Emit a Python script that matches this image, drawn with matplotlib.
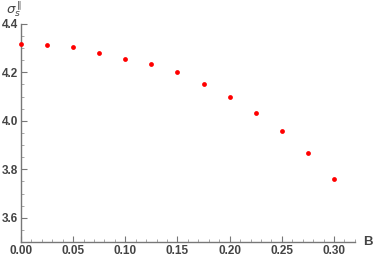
import matplotlib
matplotlib.use("Agg")
import matplotlib.pyplot as plt
from matplotlib.ticker import MultipleLocator

# data
b_vals = [0.0, 0.025, 0.05, 0.075, 0.1, 0.125, 0.15, 0.175, 0.2, 0.225, 0.25, 0.275, 0.3]
sigma = [4.318, 4.314, 4.306, 4.281, 4.256, 4.236, 4.203, 4.150, 4.100, 4.032, 3.960, 3.869, 3.760]
x_ticks = [0.0, 0.05, 0.10, 0.15, 0.20, 0.25, 0.30]
y_ticks = [3.6, 3.8, 4.0, 4.2, 4.4]

plt.rcParams["font.family"] = ["Liberation Sans", "DejaVu Sans"]
grey = "#444444"
fig = plt.figure(figsize=(3.74, 2.63), dpi=100)
ax = fig.add_axes([0.056, 0.080, 0.893, 0.829])

ax.scatter(b_vals, sigma, s=12, color="red", zorder=3, clip_on=False, linewidths=0)

ax.set_xlim(0, 0.32)
ax.set_ylim(3.5, 4.4)
ax.set_xticks(x_ticks)
ax.set_xticklabels(["%.2f" % v for v in x_ticks])
ax.set_yticks(y_ticks)
ax.set_yticklabels(["%.1f" % v for v in y_ticks])
ax.xaxis.set_minor_locator(MultipleLocator(0.01))
ax.yaxis.set_minor_locator(MultipleLocator(0.05))

for s in ["top", "right"]:
    ax.spines[s].set_visible(False)
for s in ["left", "bottom"]:
    ax.spines[s].set_color("#777777")
    ax.spines[s].set_linewidth(1.0)

ax.tick_params(which="major", direction="in", length=4, width=0.8, color="#777777",
               labelsize=8.5, labelcolor=grey, pad=2)
ax.tick_params(which="minor", direction="in", length=2, width=0.6, color="#999999")
for lab in ax.get_xticklabels() + ax.get_yticklabels():
    lab.set_fontweight("bold")

ax.text(0.995, 0.080, "B", transform=fig.transFigure, ha="right", va="center",
        fontsize=9.5, color=grey, fontweight="bold")
ax.text(0.015, 0.948, r"$\sigma_s^{\parallel}$", transform=fig.transFigure, ha="left",
        va="baseline", fontsize=9.5, color=grey)

fig.savefig("out.png", dpi=100)
